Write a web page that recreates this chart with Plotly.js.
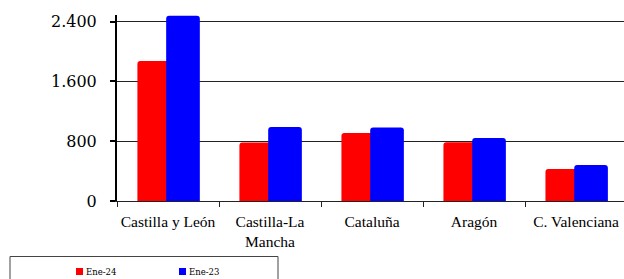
<!DOCTYPE html>
<html>
<head>
<meta charset="utf-8">
<script src="https://cdn.plot.ly/plotly-3.0.1.min.js"></script>
<style>html,body{margin:0;padding:0;background:#fff;}#chart{width:624px;height:279px;}</style>
</head>
<body>
<div id="chart"></div>
<script>
var categories = ["Castilla y León", "Castilla-La<br>Mancha", "Cataluña", "Aragón", "C. Valenciana"];
var seriesNames = ["Ene-24", "Ene-23"];
var ene24 = [1875, 783, 909, 788, 430];
var ene23 = [2479, 989, 984, 842, 483];
var colors = ["#FF0000", "#0000FF"];
var yTicks = [0, 800, 1600, 2400];

var W = 624, H = 279, mL = 117, mR = 0, mT = 15, mB = 78;
var pw = W - mL - mR, ph = H - mT - mB;
function px(x) { return (x - mL) / pw; }
function py(y) { return (H - mB - y) / ph; }

var SERIF = "'Liberation Serif', 'Times New Roman', serif";
var SERIF2 = "'DejaVu Serif', Georgia, serif";

var traces = [
  { type: "bar", x: categories, y: ene24, name: seriesNames[0], offset: -0.30, width: 0.33,
    marker: { color: colors[0], cornerradius: 3 }, showlegend: false, hoverinfo: "none" },
  { type: "bar", x: categories, y: ene23, name: seriesNames[1], offset: -0.018, width: 0.33,
    marker: { color: colors[1], cornerradius: 3 }, showlegend: false, hoverinfo: "none" }
];

var legItems = [{sq: 76, tx: 84}, {sq: 179, tx: 187}];
var shapes = [
  { type: "rect", xref: "paper", yref: "paper", x0: px(10), x1: px(278), y0: py(256.5), y1: py(300),
    line: { color: "#444", width: 1 }, fillcolor: "rgba(0,0,0,0)", layer: "above" }
];
var annotations = [];
legItems.forEach(function (it, i) {
  shapes.push({ type: "rect", xref: "paper", yref: "paper", x0: px(it.sq), x1: px(it.sq + 7),
    y0: py(268), y1: py(275), line: { width: 0 }, fillcolor: colors[i] });
  annotations.push({ xref: "paper", yref: "paper", x: px(it.tx), y: py(272), xanchor: "left", yanchor: "middle",
    text: seriesNames[i], showarrow: false, font: { family: SERIF2, size: 8.5, color: "#000" } });
});

var layout = {
  width: W, height: H,
  margin: { l: mL, r: mR, t: mT, b: mB, pad: 0 },
  paper_bgcolor: "#fff", plot_bgcolor: "#fff",
  barmode: "overlay",
  separators: ",.",
  showlegend: false,
  font: { family: SERIF },
  xaxis: {
    type: "category", range: [-0.5, 4.47],
    showline: true, linecolor: "#222", linewidth: 1,
    ticks: "outside", tickson: "boundaries", ticklen: 5, tickcolor: "#222", tickwidth: 1,
    showgrid: false, zeroline: false, tickangle: 0, automargin: false,
    ticklabelstandoff: 6,
    tickfont: { family: SERIF, size: 15.5, color: "#000" }
  },
  yaxis: {
    range: [0, 2490], tickvals: yTicks, tickformat: ",d",
    showline: true, linecolor: "#000", linewidth: 2,
    ticks: "outside", ticklen: 5, tickcolor: "#000", tickwidth: 2,
    showgrid: true, gridcolor: "#222", gridwidth: 1, zeroline: false,
    ticklabelstandoff: 10, automargin: false,
    tickfont: { family: SERIF2, size: 16, color: "#000" }
  },
  shapes: shapes,
  annotations: annotations
};

Plotly.newPlot("chart", traces, layout, { displayModeBar: false, staticPlot: true });
</script>
</body>
</html>
